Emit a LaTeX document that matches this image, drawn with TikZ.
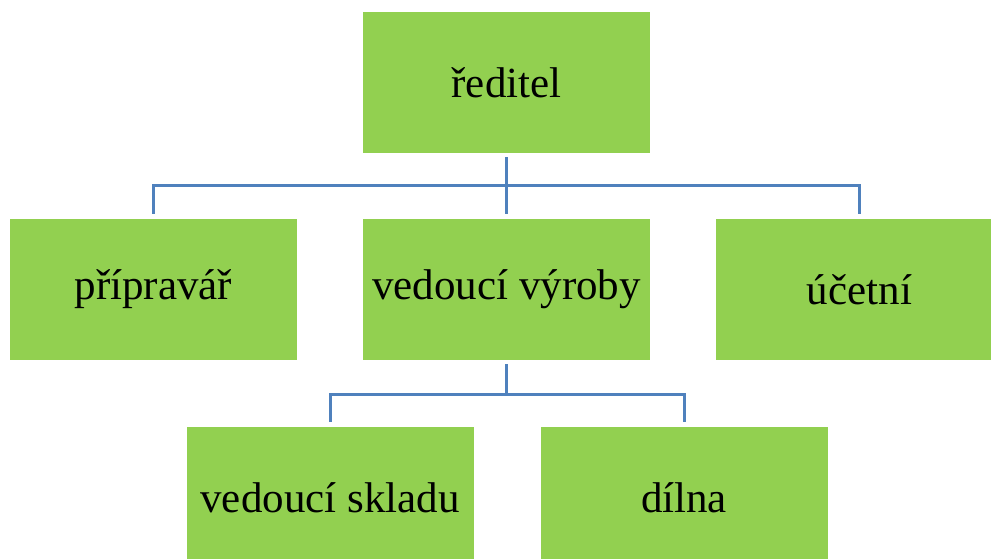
\documentclass[tikz,border=0pt]{standalone}
\usepackage{fontspec}
\setmainfont{Liberation Serif}
\definecolor{boxgreen}{HTML}{92D050}
\definecolor{linkblue}{HTML}{4F81BD}
\begin{document}
\begin{tikzpicture}[x=1pt,y=-1pt,
  orgbox/.style={rectangle, fill=boxgreen, draw=none, minimum width=287pt, minimum height=141pt, inner sep=0pt, font=\fontsize{43}{50}\selectfont, text=black},
  conn/.style={draw=linkblue, line width=3pt}]
\clip (0,0) rectangle (991,559);
\fill[white] (0,0) rectangle (991,559);
\node[orgbox] (r) at (506.5,82.5) {ředitel};
\node[orgbox] (p) at (153.5,289.5) {přípravář};
\node[orgbox] (v) at (506.5,289.5) {vedoucí výroby};
\node[orgbox] (u) at (859.5,289.5) {účetní};
\node[orgbox] (s) at (330,497.5) {vedoucí skladu};
\node[orgbox] (d) at (684,497.5) {dílna};
\coordinate (b1) at (506.5,186);
\coordinate (b2) at (506.5,394);
\draw[conn] ([yshift=-4pt]r.south) -- ([yshift=5pt]v.north);
\draw[conn] ([yshift=5pt]p.north) |- (b1) -| ([yshift=5pt]u.north);
\draw[conn] ([yshift=-4pt]v.south) -- (b2);
\draw[conn] ([yshift=5pt]s.north) |- (b2) -| ([yshift=5pt]d.north);
\end{tikzpicture}
\end{document}
